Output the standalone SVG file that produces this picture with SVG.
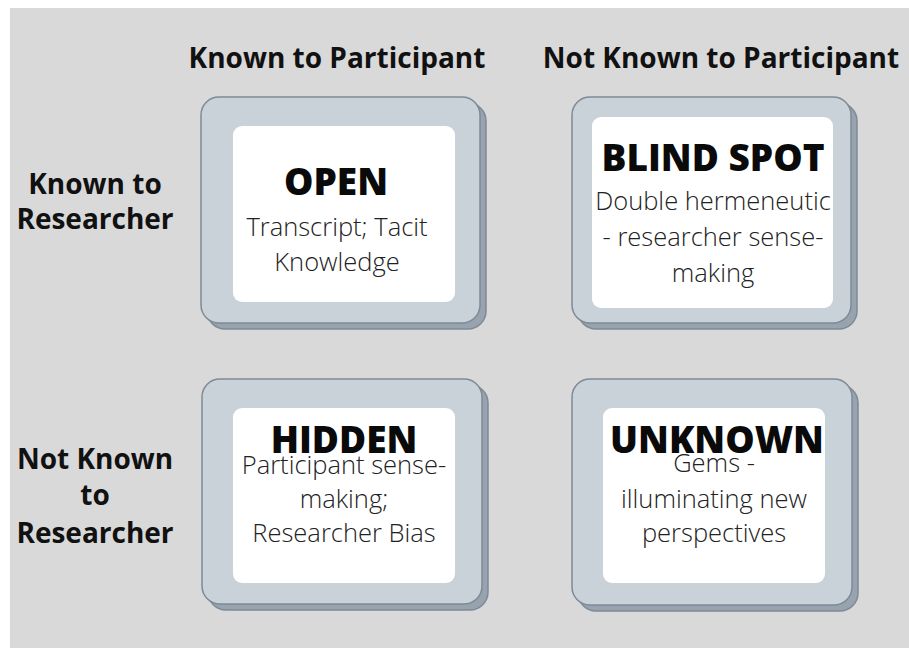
<svg xmlns="http://www.w3.org/2000/svg" width="909" height="648" viewBox="0 0 909 648">
<style>
.bg{fill:#d9d9d9}
.shadow{fill:#97a3ae;stroke:#7e8a96;stroke-width:1.5}
.card{fill:#c9d1d9;stroke:#7e8a96;stroke-width:1.5}
.inner{fill:#ffffff}
.hdr{font-family:"Open Sans","Liberation Sans",sans-serif;font-weight:700;font-size:28px;fill:#111;text-anchor:middle}
.title{font-family:"Open Sans","Liberation Sans",sans-serif;font-weight:800;font-size:37px;fill:#0a0a0a;text-anchor:middle}
.sub{font-family:"Open Sans","Liberation Sans",sans-serif;font-weight:300;font-size:25.5px;fill:#222;text-anchor:middle}
</style>
<rect x="0" y="0" width="909" height="648" fill="#ffffff"/>
<rect class="bg" x="10" y="8" width="899" height="640"/>
<g id="headers">
<text class="hdr" x="337" y="68">Known to Participant</text>
<text class="hdr" x="721" y="68">Not Known to Participant</text>
<text class="hdr" x="95" y="194">Known to</text>
<text class="hdr" x="95" y="229">Researcher</text>
<text class="hdr" x="95" y="469">Not Known</text>
<text class="hdr" x="95" y="505">to</text>
<text class="hdr" x="95" y="543">Researcher</text>
</g>
<g id="open">
<rect class="shadow" x="207" y="103" width="279" height="226" rx="18"/>
<rect class="card" x="201" y="97" width="279" height="226" rx="18"/>
<rect class="inner" x="233" y="126" width="222" height="176" rx="9"/>
<text class="title" x="336" y="195">OPEN</text>
<text class="sub" x="337" y="236">Transcript; Tacit</text>
<text class="sub" x="337" y="271">Knowledge</text>
</g>
<g id="blindspot">
<rect class="shadow" x="578" y="103" width="279" height="226" rx="18"/>
<rect class="card" x="572" y="97" width="279" height="226" rx="18"/>
<rect class="inner" x="592" y="117" width="241" height="191" rx="9"/>
<text class="title" x="713" y="171">BLIND SPOT</text>
<text class="sub" x="713" y="210">Double hermeneutic</text>
<text class="sub" x="713" y="246">- researcher sense-</text>
<text class="sub" x="713" y="282">making</text>
</g>
<g id="hidden">
<rect class="shadow" x="208" y="385" width="280" height="225" rx="18"/>
<rect class="card" x="202" y="379" width="280" height="225" rx="18"/>
<rect class="inner" x="233" y="408" width="222" height="175" rx="9"/>
<text class="title" x="344" y="453">HIDDEN</text>
<text class="sub" x="344" y="474">Participant sense-</text>
<text class="sub" x="344" y="508">making;</text>
<text class="sub" x="344" y="542">Researcher Bias</text>
</g>
<g id="unknown">
<rect class="shadow" x="578" y="385" width="280" height="226" rx="18"/>
<rect class="card" x="572" y="379" width="280" height="226" rx="18"/>
<rect class="inner" x="603" y="408" width="222" height="175" rx="9"/>
<text class="title" x="717" y="453">UNKNOWN</text>
<text class="sub" x="714" y="472">Gems -</text>
<text class="sub" x="714" y="508">illuminating new</text>
<text class="sub" x="714" y="542">perspectives</text>
</g>
<g id="connectors"/>
</svg>
